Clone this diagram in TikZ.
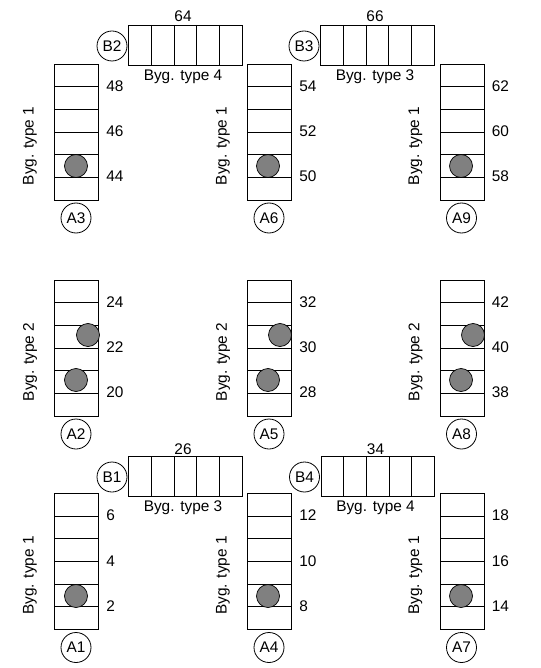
\documentclass[tikz,border=0pt]{standalone}
\usepackage{fontspec}
\setmainfont{Liberation Sans}
\tikzset{
  tag/.style={draw, circle, minimum size=30pt, inner sep=0pt},
  lab/.style={inner sep=0pt},
  dot/.style={draw, fill=gray, line width=0.7pt}
}
\begin{document}
\begin{tikzpicture}[x=1pt, y=-1pt, line width=0.8pt, font=\fontsize{15.4}{18}\selectfont]

   \useasboundingbox (0,0) rectangle (540,668);

   % vertical stacks
   \foreach \x/\y/\typ/\num/\tagname in {
       54.5/64/1/44/A3, 247.5/64/1/50/A6, 440/64/1/58/A9,
       54.5/280/2/20/A2, 247.5/280/2/28/A5, 440/280/2/38/A8,
       54.5/493.5/1/2/A1, 247.5/493.5/1/8/A4, 440/493.5/1/14/A7}{
     \draw (\x,\y) rectangle ++(44,136);
     \foreach \i in {1,...,5}
       \draw (\x,\y+22.67*\i) -- ++(44,0);
     \node[tag] (\tagname) at (\x+21.5,\y+154) {\tagname};
     \node[lab, rotate=90] (typ\tagname) at (\x-24.5,\y+82) {Byg. type \typ};
     \pgfmathtruncatemacro{\numb}{\num+2}
     \pgfmathtruncatemacro{\numc}{\num+4}
     \node[lab, anchor=west] (n\num) at (\x+51.5,\y+112.5) {\num};
     \node[lab, anchor=west] (n\numb) at (\x+51.5,\y+67.5) {\numb};
     \node[lab, anchor=west] (n\numc) at (\x+51.5,\y+22) {\numc};
   }

   % horizontal stacks
   \foreach \x/\y/\typ/\num/\dy/\tagname in {
       128.5/25/4/64/-9/B2, 320.5/25/3/66/-9/B3,
       128.5/456/3/26/-7/B1, 321/456/4/34/-7/B4}{
     \draw (\x,\y) rectangle ++(113.5,40);
     \foreach \i in {1,...,4}
       \draw (\x+22.7*\i,\y) -- ++(0,40);
     \node[tag] (\tagname) at (\x-16.5,\y+21) {\tagname};
     \node[lab] (typ\tagname) at (\x+54.5,\y+52) {Byg. type \typ};
     \node[lab] (n\num) at (\x+54.5,\y+\dy) {\num};
   }

   % balls
   \foreach \x/\y in {76/166, 268/166, 461/166,
       76/380, 88/335, 268/380, 280/335, 461/380, 473/335,
       76/596, 268/596, 461/596}
     \draw[dot] (\x,\y) circle (11.5);

\end{tikzpicture}
\end{document}
